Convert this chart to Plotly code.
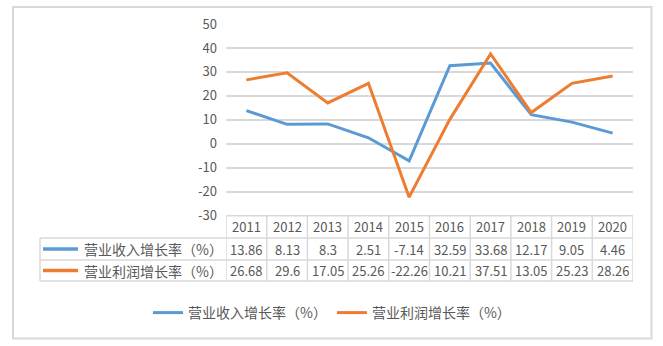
import plotly.graph_objects as go

# Data
years = ["2011", "2012", "2013", "2014", "2015", "2016", "2017", "2018", "2019", "2020"]
revenue_growth = [13.86, 8.13, 8.3, 2.51, -7.14, 32.59, 33.68, 12.17, 9.05, 4.46]
profit_growth = [26.68, 29.6, 17.05, 25.26, -22.26, 10.21, 37.51, 13.05, 25.23, 28.26]
series_names = ["营业收入增长率（%）", "营业利润增长率（%）"]
series_colors = ["#5B9BD5", "#ED7D31"]
y_ticks = [50, 40, 30, 20, 10, 0, -10, -20, -30]

W, H = 663, 346
GRID = "#D9D9D9"
TEXT = "#595959"
FONT = "Noto Sans CJK SC"


def px(x):
    return x / W


def py(y):
    return 1 - y / H


# Pixel layout of the plot area and the data table beneath it
PLOT_L, PLOT_R = 226, 633
PLOT_T, PLOT_B = 24, 215.7
ROW_Y = [PLOT_B, 238, 260, 281]
KEY_L = 40

fig = go.Figure()
idx = list(range(len(years)))
for name, vals, col in zip(series_names, [revenue_growth, profit_growth], series_colors):
    fig.add_trace(go.Scatter(
        x=idx, y=vals, name=name, mode="lines",
        line=dict(color=col, width=3), hoverinfo="skip",
    ))

shapes = []
line_style = dict(color=GRID, width=1.5)
# outer chart frame
shapes.append(dict(type="rect", xref="paper", yref="paper",
                   x0=px(13), x1=px(651.5), y0=py(338.5), y1=py(7),
                   line=dict(color=GRID, width=2)))
# table horizontal rules
shapes.append(dict(type="line", xref="paper", yref="paper",
                   x0=px(PLOT_L), x1=px(PLOT_R), y0=py(ROW_Y[0]), y1=py(ROW_Y[0]),
                   line=line_style))
for r in ROW_Y[1:]:
    shapes.append(dict(type="line", xref="paper", yref="paper",
                       x0=px(KEY_L), x1=px(PLOT_R), y0=py(r), y1=py(r),
                       line=line_style))
# table vertical rules (at category boundaries)
for k in range(len(years) + 1):
    shapes.append(dict(type="line", xref="x", yref="paper",
                       x0=k - 0.5, x1=k - 0.5, y0=py(ROW_Y[0]), y1=py(ROW_Y[3]),
                       line=line_style))
shapes.append(dict(type="line", xref="paper", yref="paper",
                   x0=px(KEY_L), x1=px(KEY_L), y0=py(ROW_Y[1]), y1=py(ROW_Y[3]),
                   line=line_style))

annotations = []
row_centers = [(ROW_Y[i] + ROW_Y[i + 1]) / 2 for i in range(3)]
for i, yr in enumerate(years):
    annotations.append(dict(x=i, y=py(row_centers[0]), xref="x", yref="paper",
                            xanchor="center", yanchor="middle",
                            text=yr, showarrow=False,
                            font=dict(family=FONT, size=13, color=TEXT)))
for r, (name, vals, col) in enumerate(zip(series_names, [revenue_growth, profit_growth], series_colors)):
    yc = row_centers[r + 1]
    shapes.append(dict(type="line", xref="paper", yref="paper",
                       x0=px(43), x1=px(78), y0=py(yc), y1=py(yc),
                       line=dict(color=col, width=3.5)))
    annotations.append(dict(x=px(82), y=py(yc), xref="paper", yref="paper",
                            xanchor="left", yanchor="middle",
                            text=name, showarrow=False,
                            font=dict(family=FONT, size=14, color=TEXT)))
    for i, v in enumerate(vals):
        annotations.append(dict(x=i, y=py(yc), xref="x", yref="paper",
                                xanchor="center", yanchor="middle",
                                text=f"{v:g}", showarrow=False,
                                font=dict(family=FONT, size=13, color=TEXT)))

fig.update_layout(
    width=W, height=H,
    margin=dict(l=0, r=0, t=0, b=0, autoexpand=False),
    paper_bgcolor="white", plot_bgcolor="white",
    showlegend=True,
    legend=dict(orientation="h", x=px(332), xanchor="center",
                y=py(313), yanchor="middle",
                font=dict(family=FONT, size=14, color=TEXT),
                itemwidth=30, bgcolor="rgba(0,0,0,0)"),
    xaxis=dict(domain=[px(PLOT_L), px(PLOT_R)], range=[-0.5, len(years) - 0.5],
               showgrid=False, zeroline=False, showticklabels=False,
               showline=False, ticks="", automargin=False),
    yaxis=dict(domain=[py(PLOT_B), py(PLOT_T)], range=[-30, 50],
               tickvals=y_ticks, ticktext=[str(t) for t in y_ticks],
               showgrid=True, gridcolor=GRID, gridwidth=1.5,
               zeroline=True, zerolinecolor=GRID, zerolinewidth=1.5,
               showline=False, ticks="", ticklabelstandoff=8, automargin=False,
               tickfont=dict(family=FONT, size=13, color=TEXT)),
    shapes=shapes,
    annotations=annotations,
)

fig.write_html("out.html")
